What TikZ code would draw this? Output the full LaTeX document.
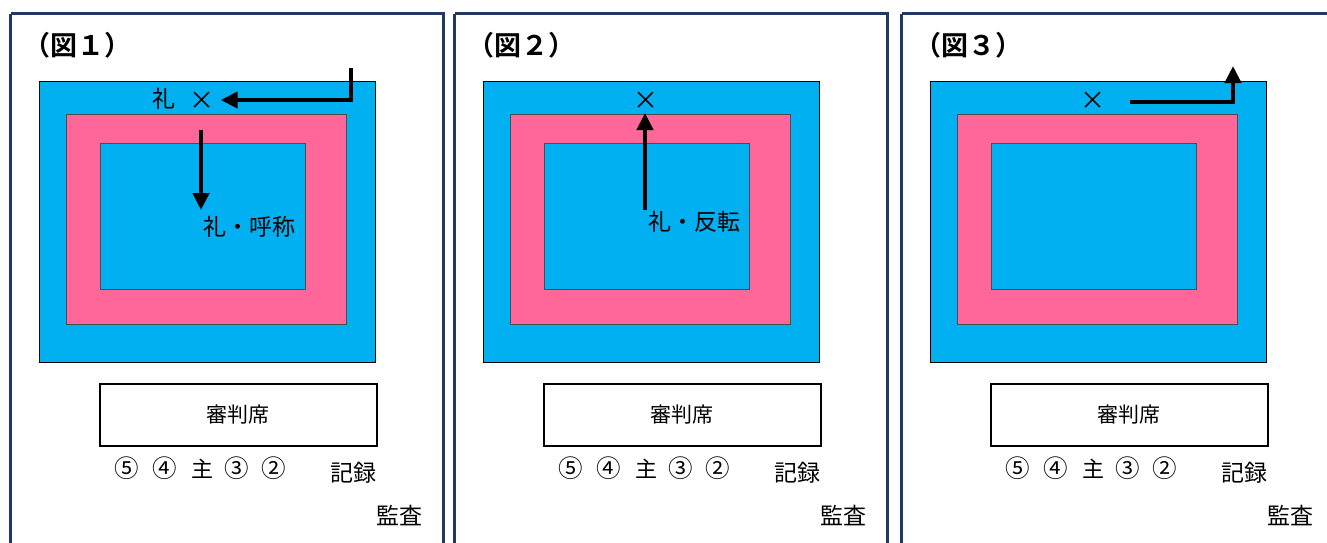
\documentclass[tikz,border=0pt]{standalone}
\usepackage{fontspec}
\setmainfont{Noto Sans CJK JP}
\newfontfamily\jpb{Noto Sans CJK JP Bold}
\usetikzlibrary{arrows.meta}
\definecolor{navy}{HTML}{1F3864}
\definecolor{cyanb}{HTML}{00B0F0}
\definecolor{pinkb}{HTML}{FF6699}
\tikzset{
  panel/.style={draw=navy,line width=3.5pt},
  outerb/.style={fill=cyanb,draw=black,line width=0.9pt},
  pinkr/.style={fill=pinkb,draw=black!70,line width=0.7pt},
  innerb/.style={fill=cyanb,draw=black!70,line width=0.7pt},
  judge/.style={draw=black,line width=2.5pt,fill=white},
  title/.style={font=\jpb\fontsize{27}{27}\selectfont,inner sep=0pt},
  lbl/.style={font=\fontsize{23}{23}\selectfont,inner sep=0pt},
  seat/.style={font=\fontsize{24.5}{24.5}\selectfont,inner sep=0pt},
  main/.style={font=\fontsize{22}{22}\selectfont,inner sep=0pt},
  rec/.style={font=\fontsize{23}{23}\selectfont,inner sep=0pt},
  jtext/.style={font=\fontsize{21}{21}\selectfont,inner sep=0pt},
  xmark/.style={font=\fontsize{25}{25}\selectfont,inner sep=0pt},
  arr/.style={line width=4.5pt,-{Triangle[length=17pt,width=16pt]}},
}
\begin{document}
\begin{tikzpicture}[x=1pt,y=-1pt]
\useasboundingbox (0,0) rectangle (1327,542);
\clip (0,0) rectangle (1327,542);
\fill[white] (0,0) rectangle (1327,542);
\foreach \dx/\n/\fw in {0/1/１,444/2/２,891/3/３}{
  \begin{scope}[xshift=\dx pt]
  \draw[panel] (10.5,13.5) -- (10.5,560) (10.5,13.5) -- (443.5,13.5) -- (443.5,560);
  \node[title,anchor=west] (t\n) at (23,45) {（図\fw）};
  \draw[outerb] (39,81) rectangle (375,362);
  \draw[pinkr] (66.5,114) rectangle (346.5,324);
  \draw[innerb] (100.5,143) rectangle (305,289);
  \node[judge,minimum width=277pt,minimum height=62pt,anchor=north west,jtext] (j\n) at (98.5,382.5) {審判席};
  \node[seat] (s5\n) at (127,468) {⑤};
  \node[seat] (s4\n) at (165,468) {④};
  \node[main] (sm\n) at (202,469) {主};
  \node[seat] (s3\n) at (237,468) {③};
  \node[seat] (s2\n) at (274,468) {②};
  \node[rec] (rec\n) at (353,473) {記録};
  \node[rec] (aud\n) at (399,516) {監査};
  \end{scope}
}
% panel 1
\node[lbl] (rei1) at (164,99) {礼};
\node[xmark] (x1) at (202,101) {×};
\coordinate (p1s) at (351,68);
\coordinate (p1c) at (351,100);
\draw[arr] (p1s) -- (p1c) -- ([xshift=6pt]x1.east |- p1c);
\coordinate (d1s) at (201,130);
\node[lbl,anchor=west] (k1) at (203,227) {礼・呼称};
\draw[arr] (d1s) -- (201,210);
% panel 2
\node[xmark] (x2) at (646,101) {×};
\node[lbl,anchor=west] (k2) at (648,222) {礼・反転};
\coordinate (u2s) at (645,210);
\draw[arr] (u2s) -- (645,113);
% panel 3
\node[xmark] (x3) at (1093,101) {×};
\coordinate (p3c) at (1233,102);
\coordinate (p3e) at (1233,66);
\draw[arr] ([xshift=24pt]x3.east |- p3c) -- (p3c) -- (p3e);
\end{tikzpicture}
\end{document}
